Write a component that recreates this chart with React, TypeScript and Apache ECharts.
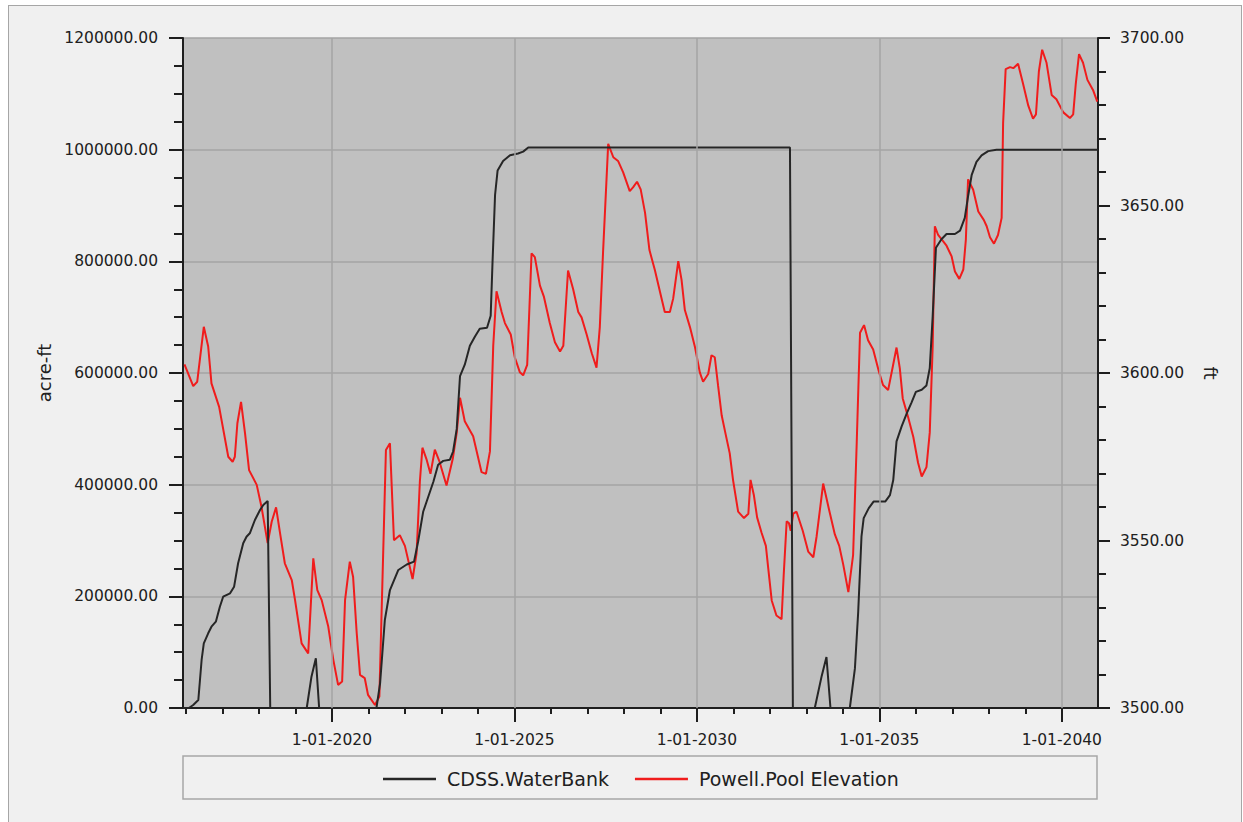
import React, { useEffect, useRef } from "react";
import * as echarts from "echarts";

// x values are decimal years (2016.5 = mid-2016)
const X_MIN = 2015.92;
const X_MAX = 2040.99;

const yearTicks = [2016, 2017, 2018, 2019, 2020, 2021, 2022, 2023, 2024, 2025, 2026, 2027, 2028, 2029, 2030, 2031, 2032, 2033, 2034, 2035, 2036, 2037, 2038, 2039, 2040];
const labelYears = [2020, 2025, 2030, 2035, 2040];

const seriesNames = ["CDSS.WaterBank", "Powell.Pool Elevation"];

// CDSS.WaterBank (acre-ft), [year, value]
const waterBank: [number, number][] = [
  [2015.92, 0], [2016.08, 0], [2016.2, 5400], [2016.34, 14300], [2016.43, 86000], [2016.49, 115900],
  [2016.61, 133800], [2016.7, 145600], [2016.82, 154600], [2016.93, 181400], [2017.02, 199300],
  [2017.21, 205400], [2017.32, 217300], [2017.43, 259200], [2017.57, 295000], [2017.66, 306800],
  [2017.75, 312900], [2017.89, 336700], [2018.03, 354600], [2018.12, 363600], [2018.24, 370700],
  [2018.31, 0], [2019.31, 0], [2019.44, 56100], [2019.56, 89000], [2019.65, 0], [2021.22, 0],
  [2021.32, 44200], [2021.45, 157600], [2021.59, 211300], [2021.82, 247200], [2022.05, 257000],
  [2022.25, 262200], [2022.36, 297300], [2022.5, 351400], [2022.64, 378300], [2022.78, 405300],
  [2022.91, 435800], [2023.05, 442600], [2023.23, 444500], [2023.32, 459400], [2023.42, 499900],
  [2023.51, 594600], [2023.64, 614900], [2023.78, 648700], [2023.92, 665500], [2024.05, 679200],
  [2024.25, 681000], [2024.35, 702600], [2024.4, 797200], [2024.47, 918800], [2024.54, 962900],
  [2024.69, 979700], [2024.88, 989900], [2025.1, 993100], [2025.24, 996500], [2025.38, 1004000],
  [2032.55, 1004000], [2032.63, 0], [2033.23, 0], [2033.42, 57500], [2033.55, 91300], [2033.66, 0],
  [2034.19, 0], [2034.33, 70900], [2034.42, 172300], [2034.51, 307300], [2034.57, 340000],
  [2034.71, 358000], [2034.84, 369700], [2035.16, 369700], [2035.29, 381300], [2035.38, 408200],
  [2035.47, 477500], [2035.61, 504500], [2035.75, 527600], [2035.88, 547000], [2036.0, 566200],
  [2036.16, 570100], [2036.29, 577800], [2036.38, 608600], [2036.46, 701000], [2036.55, 824200],
  [2036.7, 839600], [2036.84, 848900], [2037.07, 848900], [2037.21, 855000], [2037.34, 878000],
  [2037.43, 916500], [2037.53, 955000], [2037.66, 978300], [2037.8, 989700], [2037.98, 997400],
  [2038.21, 1000000], [2040.99, 1000000],
];

// Powell.Pool Elevation (ft), [year, value]
const poolElevation: [number, number][] = [
  [2015.96, 3602.6], [2016.2, 3596.1], [2016.31, 3597.4], [2016.49, 3613.8], [2016.61, 3607.9],
  [2016.7, 3596.9], [2016.91, 3589.9], [2017.16, 3575.0], [2017.28, 3573.5], [2017.34, 3575.0],
  [2017.41, 3585.0], [2017.51, 3591.4], [2017.62, 3582.0], [2017.73, 3571.0], [2017.94, 3566.6],
  [2018.07, 3560.1], [2018.24, 3549.2], [2018.35, 3555.6], [2018.47, 3559.9], [2018.58, 3552.1],
  [2018.71, 3543.2], [2018.9, 3538.2], [2018.99, 3532.2], [2019.17, 3519.3], [2019.35, 3516.3],
  [2019.49, 3544.7], [2019.6, 3535.2], [2019.72, 3532.2], [2019.9, 3524.3], [2020.04, 3514.3],
  [2020.17, 3506.9], [2020.28, 3507.9], [2020.36, 3532.2], [2020.49, 3543.7], [2020.58, 3539.2],
  [2020.68, 3522.3], [2020.77, 3509.9], [2020.9, 3508.9], [2020.99, 3503.9], [2021.18, 3500.9],
  [2021.3, 3503.4], [2021.48, 3577.0], [2021.59, 3579.0], [2021.7, 3550.1], [2021.86, 3551.6],
  [2022.0, 3548.4], [2022.21, 3538.5], [2022.32, 3546.2], [2022.41, 3567.6], [2022.48, 3577.7],
  [2022.59, 3574.3], [2022.7, 3569.9], [2022.82, 3577.1], [2022.94, 3573.8], [2023.14, 3566.4],
  [2023.31, 3574.3], [2023.42, 3582.2], [2023.51, 3592.6], [2023.64, 3585.6], [2023.87, 3581.1],
  [2024.1, 3570.4], [2024.22, 3569.9], [2024.33, 3576.6], [2024.42, 3608.1], [2024.51, 3624.4],
  [2024.65, 3618.2], [2024.74, 3614.9], [2024.9, 3611.5], [2025.01, 3604.7], [2025.15, 3600.2],
  [2025.24, 3599.3], [2025.35, 3602.4], [2025.47, 3635.7], [2025.56, 3634.6], [2025.7, 3626.1],
  [2025.81, 3622.7], [2025.97, 3614.9], [2026.11, 3609.2], [2026.25, 3606.4], [2026.34, 3608.1],
  [2026.47, 3630.6], [2026.61, 3625.0], [2026.75, 3618.2], [2026.84, 3616.6], [2026.98, 3611.5],
  [2027.12, 3605.9], [2027.25, 3601.6], [2027.34, 3613.7], [2027.43, 3636.3], [2027.57, 3668.4],
  [2027.71, 3664.4], [2027.84, 3663.3], [2027.98, 3659.9], [2028.16, 3654.3], [2028.25, 3655.4],
  [2028.36, 3657.1], [2028.46, 3654.8], [2028.58, 3647.8], [2028.7, 3636.7], [2028.85, 3630.7],
  [2028.99, 3624.2], [2029.12, 3618.2], [2029.26, 3618.2], [2029.35, 3622.2], [2029.49, 3633.4],
  [2029.58, 3627.8], [2029.67, 3618.8], [2029.81, 3613.7], [2029.95, 3607.6], [2030.08, 3600.2],
  [2030.17, 3597.4], [2030.31, 3599.7], [2030.4, 3605.3], [2030.49, 3604.7], [2030.58, 3596.3],
  [2030.68, 3587.3], [2030.79, 3581.6], [2030.9, 3576.0], [2030.99, 3568.1], [2031.13, 3558.6],
  [2031.29, 3556.7], [2031.41, 3558.0], [2031.47, 3568.1], [2031.56, 3563.6], [2031.65, 3556.9],
  [2031.77, 3552.4], [2031.89, 3548.4], [2031.95, 3542.2], [2032.05, 3532.1], [2032.18, 3527.6],
  [2032.32, 3526.5], [2032.38, 3540.0], [2032.46, 3555.7], [2032.52, 3555.2], [2032.57, 3552.9],
  [2032.64, 3558.0], [2032.73, 3558.6], [2032.9, 3552.9], [2033.05, 3546.7], [2033.19, 3545.0],
  [2033.28, 3551.2], [2033.46, 3567.0], [2033.6, 3560.2], [2033.78, 3551.8], [2033.9, 3548.4],
  [2034.01, 3542.8], [2034.15, 3534.6], [2034.28, 3545.6], [2034.38, 3579.4], [2034.47, 3612.0],
  [2034.58, 3614.3], [2034.69, 3609.8], [2034.83, 3607.0], [2034.99, 3600.3], [2035.1, 3596.4],
  [2035.24, 3594.9], [2035.36, 3601.5], [2035.47, 3607.6], [2035.56, 3601.4], [2035.64, 3592.4],
  [2035.79, 3586.7], [2035.93, 3580.9], [2036.06, 3573.2], [2036.16, 3569.1], [2036.29, 3571.9],
  [2036.38, 3582.2], [2036.46, 3607.8], [2036.52, 3643.8], [2036.61, 3641.2], [2036.84, 3638.0],
  [2036.98, 3634.8], [2037.07, 3630.3], [2037.19, 3628.1], [2037.3, 3630.9], [2037.37, 3639.9],
  [2037.43, 3657.8], [2037.57, 3654.7], [2037.71, 3648.2], [2037.86, 3645.7], [2037.94, 3643.8],
  [2038.03, 3640.5], [2038.14, 3638.6], [2038.25, 3641.2], [2038.35, 3646.3], [2038.39, 3674.6],
  [2038.46, 3690.7], [2038.58, 3691.3], [2038.67, 3691.0], [2038.8, 3692.3], [2038.94, 3686.2],
  [2039.08, 3679.8], [2039.21, 3675.9], [2039.29, 3677.2], [2039.37, 3690.0], [2039.46, 3696.5],
  [2039.58, 3692.6], [2039.72, 3683.0], [2039.85, 3681.7], [2040.04, 3677.8], [2040.22, 3676.1],
  [2040.31, 3677.2], [2040.38, 3686.2], [2040.47, 3695.2], [2040.58, 3692.6], [2040.7, 3687.5],
  [2040.86, 3684.3], [2040.97, 3681.0],
];

const FONT = "DejaVu Sans";
const AXIS_DARK = "#1e1e1e";
const GRID_LINE = "#a4a4a4";
const TEXT = "#202020";
const RED = "#f01c1c";
const BLACK = "#262626";

function buildOption(): any {
  const tickLine = { color: AXIS_DARK, width: 2 };
  return {
    animation: false,
    backgroundColor: "transparent",
    textStyle: { fontFamily: FONT },
    graphic: [
      {
        type: "rect",
        silent: true,
        shape: { x: 183, y: 756, width: 914, height: 43 },
        style: { fill: "#f0f0f0", stroke: "#a6a6a6", lineWidth: 1.5 },
      },
    ],
    grid: {
      left: 183,
      top: 38,
      right: 145,
      bottom: 114,
      show: true,
      backgroundColor: "#c0c0c0",
      borderWidth: 0,
    },
    legend: {
      data: seriesNames,
      left: 383,
      top: 769.5,
      icon: "rect",
      itemWidth: 53,
      itemHeight: 2.5,
      itemGap: 26,
      selectedMode: false,
      padding: 0,
      textStyle: { fontSize: 19, color: TEXT, fontFamily: FONT, padding: [0, 0, 0, 6] },
    },
    xAxis: [
      {
        type: "value",
        min: X_MIN,
        max: X_MAX,
        position: "top",
        show: false,
      },
      {
        type: "value",
        min: X_MIN,
        max: X_MAX,
        position: "bottom",
        axisLine: { show: true, onZero: false, lineStyle: { color: AXIS_DARK, width: 2 } },
        axisTick: { show: true, customValues: yearTicks, length: 6, lineStyle: tickLine },
        axisLabel: { show: false },
        splitLine: { show: false },
      },
      {
        type: "value",
        min: X_MIN,
        max: X_MAX,
        position: "bottom",
        axisLine: { show: false, onZero: false },
        axisTick: { show: true, customValues: labelYears, length: 14, lineStyle: tickLine },
        axisLabel: {
          show: true,
          customValues: labelYears,
          formatter: (v: number) => "1-01-" + Math.round(v),
          margin: 24,
          fontSize: 15.5,
          color: TEXT,
          fontFamily: FONT,
        },
        splitLine: { show: false },
      },
    ],
    yAxis: [
      {
        type: "value",
        position: "left",
        min: 0,
        max: 1200000,
        interval: 200000,
        name: "acre-ft",
        nameLocation: "middle",
        nameGap: 119,
        nameRotate: 90,
        nameTextStyle: { fontSize: 18, color: TEXT, fontFamily: FONT },
        axisLine: { show: true, onZero: false, lineStyle: { color: AXIS_DARK, width: 2 } },
        axisTick: { show: true, length: 14, lineStyle: tickLine },
        minorTick: { show: true, splitNumber: 4, length: 9, lineStyle: tickLine },
        axisLabel: {
          formatter: (v: number) => v.toFixed(2),
          margin: 25,
          fontSize: 15.5,
          color: TEXT,
          fontFamily: FONT,
        },
        splitLine: { show: true, lineStyle: { color: GRID_LINE, width: 1.5 } },
      },
      {
        type: "value",
        position: "right",
        min: 3500,
        max: 3700,
        interval: 50,
        name: "ft",
        nameLocation: "middle",
        nameGap: 103,
        nameRotate: -90,
        nameTextStyle: { fontSize: 18, color: TEXT, fontFamily: FONT },
        axisLine: { show: true, onZero: false, lineStyle: { color: AXIS_DARK, width: 2 } },
        axisTick: { show: true, length: 12, lineStyle: tickLine },
        minorTick: { show: true, splitNumber: 5, length: 8, lineStyle: tickLine },
        axisLabel: {
          formatter: (v: number) => v.toFixed(2),
          margin: 22,
          fontSize: 15.5,
          color: TEXT,
          fontFamily: FONT,
        },
        splitLine: { show: false },
      },
    ],
    series: [
      {
        name: "gridlines",
        type: "line",
        xAxisIndex: 0,
        yAxisIndex: 0,
        data: [],
        z: 1,
        silent: true,
        markLine: {
          silent: true,
          symbol: "none",
          label: { show: false },
          lineStyle: { color: GRID_LINE, width: 1.5, type: "solid" },
          data: labelYears.map((v) => ({ xAxis: v })),
        },
      },
      {
        name: seriesNames[1],
        type: "line",
        xAxisIndex: 0,
        yAxisIndex: 1,
        data: poolElevation,
        symbol: "none",
        z: 3,
        lineStyle: { color: RED, width: 2 },
        itemStyle: { color: RED },
      },
      {
        name: seriesNames[0],
        type: "line",
        xAxisIndex: 0,
        yAxisIndex: 0,
        data: waterBank,
        symbol: "none",
        clip: false,
        z: 4,
        lineStyle: { color: BLACK, width: 2 },
        itemStyle: { color: BLACK },
      },
    ],
  };
}

export default function App() {
  const ref = useRef<HTMLDivElement>(null);
  useEffect(() => {
    if (!ref.current) return;
    const chart = echarts.init(ref.current, null, { renderer: "svg" });
    chart.setOption(buildOption());
    return () => chart.dispose();
  }, []);
  return (
    <div style={{ position: "absolute", left: 0, top: 0, width: 1243, height: 822, background: "#ffffff", overflow: "hidden" }}>
      <div
        style={{
          position: "absolute",
          left: 8,
          top: 5,
          width: 1234,
          height: 840,
          background: "#f0f0f0",
          border: "1.5px solid #a6a6a6",
          boxSizing: "border-box",
        }}
      />
      <div ref={ref} style={{ position: "absolute", left: 0, top: 0, width: 1243, height: 822 }} />
    </div>
  );
}
